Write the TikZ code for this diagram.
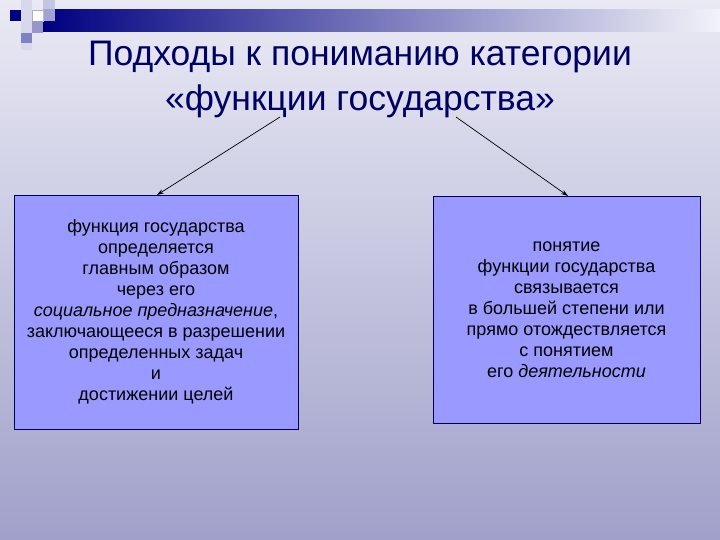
\documentclass[tikz,border=0pt]{standalone}
\usepackage{fontspec}
\setmainfont{Liberation Sans}
\usetikzlibrary{arrows.meta}
\definecolor{bgtop}{RGB}{234,234,245}
\definecolor{bgbot}{RGB}{160,160,202}
\definecolor{boxfill}{RGB}{153,153,255}
\definecolor{navyc}{RGB}{0,0,128}
\definecolor{titleblue}{RGB}{0,0,100}
\definecolor{lav}{RGB}{190,190,225}
\definecolor{medlav}{RGB}{150,150,205}
\tikzset{
  panel/.style={draw=navyc!70!black, line width=0.8pt, fill=boxfill, align=center,
    font=\fontsize{18}{21}\selectfont, inner sep=0pt},
  conn/.style={-{Stealth[length=7pt,width=4.5pt]}, line width=0.7pt, black}
}
\begin{document}
\begin{tikzpicture}[x=1pt,y=-1pt]
\useasboundingbox (0,0) rectangle (720,540);
\shade[top color=bgtop, bottom color=bgbot] (0,0) rectangle (720,540);
% top decoration
\shade[left color=navyc, right color=bgtop!60!white] (43,10) rectangle (720,32);
\fill[lav!60!white] (21,0) rectangle (32,50);
\fill[navyc] (10,10) rectangle (21,21);
\fill[white!85!bgtop, draw=gray!60] (32,10) rectangle (43,21);
\fill[lav, opacity=0.85] (43,0) rectangle (55,21);
\fill[medlav] (32,21) rectangle (43,33);
\fill[medlav!85!navyc] (21,33) rectangle (32,43);
% title
\node[font=\fontsize{35.5}{45}\selectfont, text=titleblue, align=center] (title) at (360,79)
  {Подходы к пониманию категории\\«функции государства»};
% boxes
\node[panel, minimum width=284pt, minimum height=234pt] (left) at (156,312)
  {функция государства\\определяется\\главным образом\\через его\\\textit{социальное предназначение},\\заключающееся в разрешении\\определенных задач\\и\\достижении целей};
\node[panel, minimum width=267pt, minimum height=227pt] (right) at (566.5,309.5)
  {понятие\\функции государства\\связывается\\в большей степени или\\прямо отождествляется\\с понятием\\его \textit{деятельности}};
% connectors
\coordinate (sl) at (280,117);
\coordinate (sr) at (456,117);
\draw[conn] (sl) -- (157,195);
\draw[conn] (sr) -- (568,196);
\end{tikzpicture}
\end{document}
